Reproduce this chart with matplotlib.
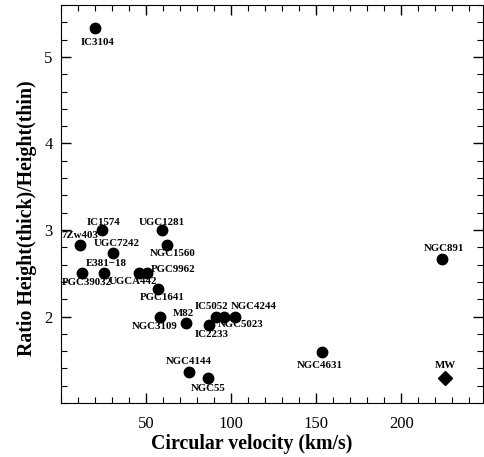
#!/usr/bin/env python3
"""
Thick/thin disc scale-height ratio against circular velocity.
"""

import matplotlib

matplotlib.use("Agg")
import matplotlib.pyplot as plt
from matplotlib.ticker import MultipleLocator

# galaxy sample
names = [
    "IC3104", "IC1574", "7Zw403", "UGC7242", "UGC1281", "NGC1560",
    "PGC39032", "E381\u221218", "UGCA442", "PGC9962", "PGC1641", "NGC3109",
    "M82", "IC2233", "IC5052", "NGC5023", "NGC4244", "NGC4144", "NGC55",
    "NGC4631", "NGC891",
]
vcirc = [
    20, 24, 11, 30.5, 59.5, 62.5,
    12.5, 25, 46, 50.5, 57, 58,
    73.5, 87, 91, 95.5, 102, 75.5, 86.5,
    153.5, 224,
]
ratio = [
    5.34, 3.00, 2.83, 2.74, 3.00, 2.83,
    2.50, 2.50, 2.50, 2.50, 2.32, 2.00,
    1.93, 1.90, 2.00, 2.00, 2.00, 1.36, 1.29,
    1.59, 2.67,
]

# Milky Way
mw_name = "MW"
mw_vcirc = 225.5
mw_ratio = 1.29

# label offsets from the marker, in pixels (dx right, dy down)
label_offsets = [
    (3, 15), (2, -8), (0, -9), (4, -9), (0, -8), (5, 9),
    (5, 9), (3, -10), (-6, 8), (26, -4), (4, 9), (-5, 10),
    (-3, -9), (3, 9), (-4, -10), (17, 8), (19, -10), (-1, -10), (0, 11),
    (-2, 13), (2, -10),
]
mw_offset = (1, -12)


def px_to_pt(dx: float, dy: float) -> tuple[float, float]:
    return dx * 0.72, -dy * 0.72


def main() -> int:
    plt.rcParams["font.family"] = ["Liberation Serif", "DejaVu Serif"]

    fig = plt.figure(figsize=(4.84, 4.57), dpi=100)
    ax = fig.add_axes([0.126, 0.118, 0.872, 0.871])

    ax.plot(vcirc, ratio, "o", color="black", markersize=7.5, linestyle="none")
    ax.plot([mw_vcirc], [mw_ratio], "D", color="black", markersize=7.5, linestyle="none")

    lab_kw = dict(textcoords="offset points", ha="center", va="center",
                  fontsize=7.8, fontweight="bold")
    for name, x, y, (dx, dy) in zip(names, vcirc, ratio, label_offsets):
        ax.annotate(name, (x, y), xytext=px_to_pt(dx, dy), **lab_kw)
    ax.annotate(mw_name, (mw_vcirc, mw_ratio), xytext=px_to_pt(*mw_offset), **lab_kw)

    ax.set_xlim(0, 248)
    ax.set_ylim(1.0, 5.6)
    ax.xaxis.set_minor_locator(MultipleLocator(10))
    ax.yaxis.set_minor_locator(MultipleLocator(0.2))
    ax.set_xticks([50, 100, 150, 200])
    ax.set_yticks([2, 3, 4, 5])
    ax.tick_params(which="both", direction="in", top=True, right=True, labelsize=12)
    ax.tick_params(which="major", length=7, width=1, pad=6)
    ax.tick_params(which="minor", length=4, width=0.8)
    ax.tick_params(axis="x", which="major", pad=9)

    ax.set_xlabel("Circular velocity (km/s)", fontsize=14.3, fontweight="bold", labelpad=2)
    ax.set_ylabel("Ratio Height(thick)/Height(thin)", fontsize=14.3, fontweight="bold",
                  labelpad=5)
    ax.xaxis.label.set_x(0.453)
    ax.yaxis.label.set_y(0.465)

    fig.savefig("out.png", dpi=100)
    plt.close(fig)
    return 0


if __name__ == "__main__":
    raise SystemExit(main())
